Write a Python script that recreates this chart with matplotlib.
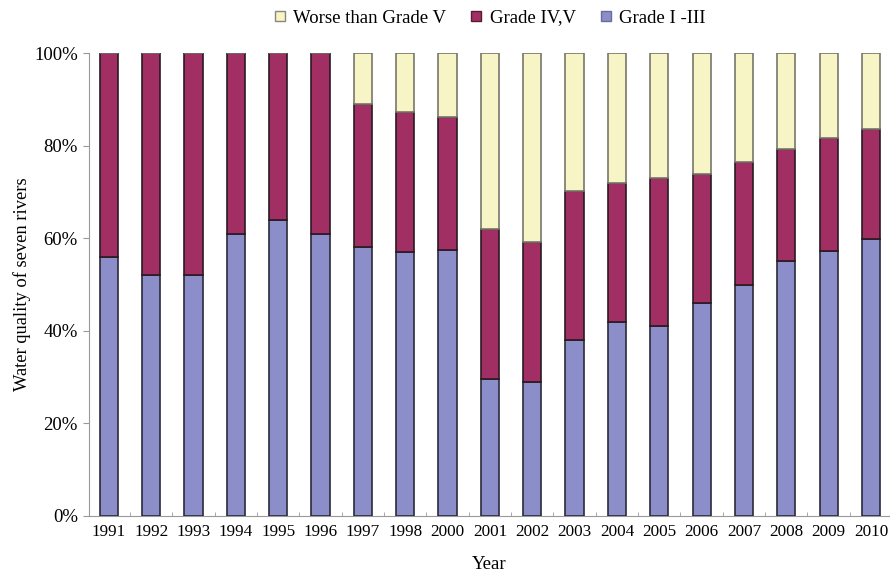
import matplotlib
matplotlib.use("Agg")
import matplotlib.pyplot as plt
from matplotlib.lines import Line2D
import numpy as np

years = ["1991", "1992", "1993", "1994", "1995", "1996", "1997", "1998", "2000",
         "2001", "2002", "2003", "2004", "2005", "2006", "2007", "2008", "2009", "2010"]
# shares (%) of river sections in each class
grade_1_3 = [56, 52, 52, 61, 64, 61, 58, 57, 57.5, 29.5, 29, 38, 42, 41, 46, 50, 55, 57.3, 59.8]
grade_4_5 = [44, 48, 48, 39, 36, 39, 31, 30.3, 28.7, 32.5, 30.1, 32.3, 30, 32.1, 27.9, 26.4, 24.3, 24.3, 23.8]
worse_5 = [0, 0, 0, 0, 0, 0, 11, 12.7, 13.8, 38, 40.9, 29.7, 28, 26.9, 26.1, 23.6, 20.7, 18.4, 16.4]

c_blue = "#8b8ec9"
c_red = "#a12f63"
c_yel = "#f7f4c6"

plt.rcParams["font.family"] = ["Liberation Serif", "DejaVu Serif"]

fig = plt.figure(figsize=(8.9, 5.71), dpi=100)
ax = fig.add_axes([89 / 890, 55 / 571, 1 - 89 / 890, (516 - 53) / 571])

x = np.arange(len(years))
w = 0.43
b1 = np.array(grade_1_3) / 100
b2 = np.array(grade_4_5) / 100
b3 = np.array(worse_5) / 100
ax.bar(x, b1, w, color=c_blue, edgecolor="#2a2a3a", linewidth=1.2, zorder=3)
ax.bar(x, b2, w, bottom=b1, color=c_red, edgecolor="#2a1a22", linewidth=1.2, zorder=3)
ax.bar(x, b3, w, bottom=b1 + b2, color=c_yel, edgecolor="#77776a", linewidth=1.2, zorder=3)

ax.set_xlim(-0.47, 18.45)
ax.set_ylim(0, 1)
ax.set_yticks([0, 0.2, 0.4, 0.6, 0.8, 1.0])
ax.set_yticklabels(["0%", "20%", "40%", "60%", "80%", "100%"], fontsize=13.5)
ax.set_xticks(x)
ax.set_xticklabels(years, fontsize=12.3)
ax.tick_params(axis="x", length=0, pad=6)
ax.tick_params(axis="y", length=4, color="#999999", pad=4)
ax.set_xticks(x[:-1] + 0.5, minor=True)
ax.tick_params(axis="x", which="minor", direction="in", length=3, color="#999999")

for s in ["top", "right"]:
    ax.spines[s].set_visible(False)
ax.spines["left"].set_color("#999999")
ax.spines["bottom"].set_color("#999999")

ax.set_xlabel("Year", fontsize=13.5, labelpad=11)
ax.set_ylabel("Water quality of seven rivers", fontsize=13.3, labelpad=2)

handles = [
    Line2D([], [], marker="s", linestyle="none", markersize=7, markerfacecolor=c_yel, markeredgecolor="#888877"),
    Line2D([], [], marker="s", linestyle="none", markersize=7, markerfacecolor=c_red, markeredgecolor="#5a1a38"),
    Line2D([], [], marker="s", linestyle="none", markersize=7, markerfacecolor=c_blue, markeredgecolor="#6a6d9a"),
]
fig.legend(handles, ["Worse than Grade V", "Grade IV,V", "Grade I -III"], loc="center",
           bbox_to_anchor=(488 / 890, 1 - 18 / 571), ncol=3, frameon=False, fontsize=13.5,
           handletextpad=0.2, columnspacing=1.1, handlelength=1.0)

fig.savefig("out.png", dpi=100)
